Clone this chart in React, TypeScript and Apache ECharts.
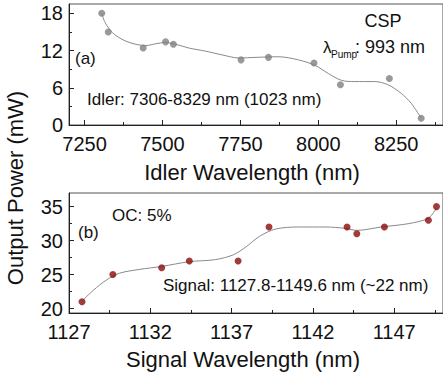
import React, { useEffect, useRef } from "react";
import * as echarts from "echarts";

// Panel (a): idler
const idlerWavelength = [7305, 7326, 7438, 7510, 7535, 7752, 7840, 7986, 8071, 8228, 8330];
const idlerPower = [18.0, 15.0, 12.4, 13.4, 13.0, 10.5, 10.9, 10.0, 6.5, 7.5, 1.1];
const idlerFitX = [7305, 7314, 7330, 7351, 7383, 7415, 7447, 7479, 7509, 7543, 7585, 7638, 7691, 7745, 7800, 7872, 7936, 7990, 8032, 8074, 8117, 8181, 8223, 8266, 8298, 8330];
const idlerFitY = [18.0, 16.7, 15.4, 14.4, 13.5, 13.0, 12.8, 13.1, 13.3, 13.0, 12.4, 11.9, 11.3, 10.8, 10.9, 11.0, 10.5, 9.6, 8.3, 7.2, 7.0, 7.0, 6.5, 5.1, 3.5, 1.1];

// Panel (b): signal
const signalWavelength = [1127.8, 1129.7, 1132.7, 1134.4, 1137.4, 1139.3, 1144.1, 1144.7, 1146.4, 1149.1, 1149.6];
const signalPower = [21, 25, 26, 27, 27, 32, 32, 31, 32, 33, 35];
const signalFitX = [1127.8, 1128.5, 1129.3, 1130.1, 1131.3, 1132.7, 1134.4, 1136.0, 1137.1, 1137.9, 1138.7, 1139.7, 1141.1, 1142.8, 1144.0, 1144.7, 1146.2, 1147.9, 1149.1, 1149.6];
const signalFitY = [21.1, 22.7, 24.2, 25.2, 25.75, 26.2, 26.9, 27.2, 27.9, 29.1, 30.6, 31.7, 32.0, 32.0, 31.8, 31.5, 32.0, 32.5, 33.3, 34.8];

// Ticks
const idlerTicks = [7250, 7500, 7750, 8000, 8250];
const idlerMinorTicks = [7375, 7625, 7875, 8125, 8375];
const powerTopTicks = [0, 6, 12, 18];
const powerTopMinorTicks = [3, 9, 15];
const signalTicks = [1127, 1132, 1137, 1142, 1147];
const signalMinorTicks = [1129.5, 1134.5, 1139.5, 1144.5, 1149.5];
const powerBottomTicks = [20, 25, 30, 35];
const powerBottomMinorTicks = [22.5, 27.5, 32.5];

const FONT = "'Liberation Sans', Arial, sans-serif";
const AXIS_COLOR = "#222";

function majorAxis(gridIndex: number, min: number, max: number, ticks: number[], pos: string, margin: number) {
  return {
    type: "value",
    gridIndex,
    min,
    max,
    position: pos,
    axisLine: { show: true, onZero: false, lineStyle: { color: AXIS_COLOR, width: 1 } },
    axisTick: { show: true, inside: true, length: 5, customValues: ticks, lineStyle: { color: AXIS_COLOR, width: 1 } },
    axisLabel: {
      show: true,
      customValues: ticks,
      fontSize: 20,
      color: "#111",
      fontFamily: FONT,
      margin,
      formatter: (v: number) => String(v),
    },
    splitLine: { show: false },
  };
}

function minorAxis(gridIndex: number, min: number, max: number, ticks: number[], pos: string) {
  return {
    type: "value",
    gridIndex,
    min,
    max,
    position: pos,
    axisLine: { show: false, onZero: false },
    axisTick: { show: true, inside: true, length: 3, customValues: ticks, lineStyle: { color: AXIS_COLOR, width: 1 } },
    axisLabel: { show: false },
    splitLine: { show: false },
  };
}

export default function App() {
  const ref = useRef<HTMLDivElement>(null);
  useEffect(() => {
    if (!ref.current) return;
    const chart = echarts.init(ref.current, undefined, { renderer: "svg" });
    const textStyle = (size: number) => ({ fontSize: size, fill: "#111", fontFamily: FONT });
    chart.setOption({
      animation: false,
      backgroundColor: "#fff",
      grid: [
        { left: 69, width: 376, top: 4, height: 121, show: true, borderColor: "#555", borderWidth: 1, backgroundColor: "transparent" },
        { left: 69, width: 376, top: 193, height: 120, show: true, borderColor: "#555", borderWidth: 1, backgroundColor: "transparent" },
      ],
      xAxis: [
        majorAxis(0, 7200, 8400, idlerTicks, "bottom", 9),
        minorAxis(0, 7200, 8400, idlerMinorTicks, "bottom"),
        majorAxis(1, 1127, 1150, signalTicks, "bottom", 9),
        minorAxis(1, 1127, 1150, signalMinorTicks, "bottom"),
      ],
      yAxis: [
        majorAxis(0, 0, 19.5, powerTopTicks, "left", 6),
        minorAxis(0, 0, 19.5, powerTopMinorTicks, "left"),
        majorAxis(1, 19.35, 37, powerBottomTicks, "left", 6),
        minorAxis(1, 19.35, 37, powerBottomMinorTicks, "left"),
      ],
      series: [
        {
          type: "line",
          xAxisIndex: 0,
          yAxisIndex: 0,
          data: idlerFitX.map((x, i) => [x, idlerFitY[i]]),
          smooth: 0.3,
          showSymbol: false,
          lineStyle: { color: "#8a8a8a", width: 1 },
          z: 2,
        },
        {
          type: "scatter",
          xAxisIndex: 0,
          yAxisIndex: 0,
          data: idlerWavelength.map((x, i) => [x, idlerPower[i]]),
          symbolSize: 7,
          itemStyle: { color: "#808080" },
          z: 3,
        },
        {
          type: "line",
          xAxisIndex: 2,
          yAxisIndex: 2,
          data: signalFitX.map((x, i) => [x, signalFitY[i]]),
          smooth: 0.3,
          showSymbol: false,
          lineStyle: { color: "#8a8a8a", width: 1 },
          z: 2,
        },
        {
          type: "scatter",
          xAxisIndex: 2,
          yAxisIndex: 2,
          data: signalWavelength.map((x, i) => [x, signalPower[i]]),
          symbolSize: 7,
          itemStyle: { color: "#8b0a0a" },
          z: 3,
        },
      ],
      graphic: [
        { type: "text", x: 15, y: 188, rotation: Math.PI / 2, style: { ...textStyle(22), text: "Output Power (mW)", textAlign: "center", textVerticalAlign: "middle" } },
        { type: "text", x: 252, y: 172, style: { ...textStyle(22), text: "Idler Wavelength (nm)", textAlign: "center", textVerticalAlign: "middle" } },
        { type: "text", x: 243, y: 359, style: { ...textStyle(22), text: "Signal Wavelength (nm)", textAlign: "center", textVerticalAlign: "middle" } },
        { type: "text", x: 75, y: 58, style: { ...textStyle(17), text: "(a)", textVerticalAlign: "middle" } },
        { type: "text", x: 87, y: 99, style: { ...textStyle(17), text: "Idler: 7306-8329 nm (1023 nm)", textVerticalAlign: "middle" } },
        { type: "text", x: 383, y: 21, style: { ...textStyle(18), text: "CSP", textAlign: "center", textVerticalAlign: "middle" } },
        { type: "text", x: 323, y: 47, style: { ...textStyle(17), text: "λ", textVerticalAlign: "middle" } },
        { type: "text", x: 331, y: 54, style: { ...textStyle(10), text: "Pump", textVerticalAlign: "middle" } },
        { type: "text", x: 355, y: 47, style: { ...textStyle(18), text: ": 993 nm", textVerticalAlign: "middle" } },
        { type: "text", x: 78, y: 232, style: { ...textStyle(17), text: "(b)", textVerticalAlign: "middle" } },
        { type: "text", x: 112, y: 215, style: { ...textStyle(17), text: "OC: 5%", textVerticalAlign: "middle" } },
        { type: "text", x: 163, y: 285, style: { ...textStyle(17), text: "Signal: 1127.8-1149.6 nm (~22 nm)", textVerticalAlign: "middle" } },
      ],
    });
    return () => chart.dispose();
  }, []);
  return (
    <div
      ref={ref}
      style={{ position: "fixed", left: 0, top: 0, width: 443, height: 375, background: "#fff" }}
    />
  );
}
